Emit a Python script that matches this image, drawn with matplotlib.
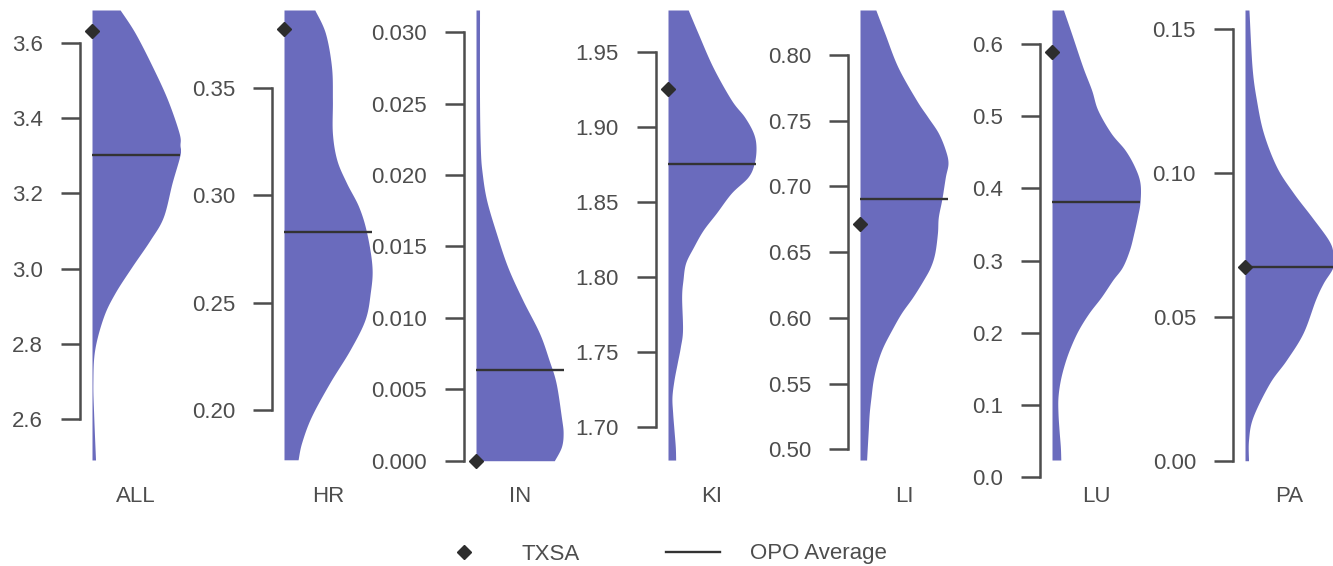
import numpy as np
import matplotlib
matplotlib.use("Agg")
import matplotlib.pyplot as plt
from matplotlib.lines import Line2D

plt.rcParams['font.family'] = ['Liberation Sans', 'DejaVu Sans']

# ---------------- data ----------------
categories = ['ALL', 'HR', 'IN', 'KI', 'LI', 'LU', 'PA']
txsa = [3.630, 0.3772, 0.0, 1.9253, 0.6714, 0.5893, 0.0675]
opo_average = [3.302, 0.2830, 0.00633, 1.8757, 0.6902, 0.3816, 0.0675]

# violin density profiles (value, relative density)
all_y = [3.687, 3.626, 3.535, 3.448, 3.360, 3.328, 3.302, 3.228, 3.137, 3.076, 3.004, 2.935, 2.872, 2.784, 2.696, 2.606, 2.492]
all_w = [0.32, 0.49, 0.69, 0.86, 0.99, 1.00, 1.00, 0.91, 0.81, 0.66, 0.45, 0.26, 0.13, 0.03, 0.01, 0.02, 0.04]

hr_y = [0.3861, 0.3754, 0.3596, 0.3443, 0.3289, 0.3164, 0.3057, 0.2945, 0.2824, 0.2666, 0.2545, 0.2420, 0.2280, 0.2127, 0.1969, 0.1848, 0.1769]
hr_w = [0.35, 0.47, 0.54, 0.55, 0.55, 0.60, 0.71, 0.85, 0.94, 1.00, 0.98, 0.92, 0.75, 0.52, 0.31, 0.20, 0.16]

in_y = [0.03156, 0.02526, 0.02176, 0.02015, 0.01826, 0.01595, 0.01357, 0.01126, 0.00895, 0.00705, 0.00544, 0.00306, 0.00194, 0.00096, 0.0]
in_w = [0.04, 0.04, 0.05, 0.07, 0.12, 0.23, 0.36, 0.53, 0.72, 0.83, 0.91, 0.97, 0.99, 0.97, 0.89]

ki_y = [1.9782, 1.9629, 1.9402, 1.9182, 1.9069, 1.8962, 1.8869, 1.8762, 1.8669, 1.8562, 1.8429, 1.8315,
        1.8202, 1.8095, 1.7982, 1.7869, 1.7649, 1.7535, 1.7429, 1.7315, 1.7202, 1.7095, 1.6982, 1.6869, 1.6782]
ki_w = [0.23, 0.34, 0.51, 0.72, 0.87, 0.97, 1.00, 0.98, 0.91, 0.72, 0.55, 0.40,
        0.29, 0.20, 0.17, 0.155, 0.165, 0.14, 0.105, 0.068, 0.045, 0.053, 0.068, 0.083, 0.087]

li_y = [0.8342, 0.8167, 0.7909, 0.7658, 0.7528, 0.7407, 0.7277, 0.7178, 0.7072, 0.6904, 0.6767, 0.6646, 0.6494,
        0.6387, 0.6288, 0.6159, 0.6037, 0.5908, 0.5778, 0.5657, 0.5527, 0.5398, 0.5276, 0.5147, 0.5018, 0.4919]
li_w = [0.18, 0.28, 0.43, 0.64, 0.77, 0.89, 0.97, 1.00, 0.97, 0.93, 0.89, 0.88, 0.85,
        0.80, 0.72, 0.60, 0.47, 0.36, 0.26, 0.195, 0.15, 0.125, 0.105, 0.094, 0.083, 0.075]

lu_y = [0.6471, 0.6152, 0.5681, 0.5363, 0.5086, 0.4767, 0.4532, 0.4296, 0.4075, 0.3812, 0.3604, 0.3382, 0.3147,
        0.2911, 0.2731, 0.2496, 0.2274, 0.2039, 0.1803, 0.1582, 0.1346, 0.1111, 0.0889, 0.0654, 0.0418, 0.0238]
lu_w = [0.13, 0.22, 0.35, 0.45, 0.52, 0.67, 0.83, 0.94, 1.00, 1.00, 0.97, 0.93, 0.88,
        0.80, 0.69, 0.56, 0.42, 0.30, 0.21, 0.145, 0.095, 0.068, 0.068, 0.08, 0.095, 0.10]

pa_y = [0.1567, 0.1369, 0.1254, 0.1139, 0.1021, 0.0931, 0.0847, 0.0767, 0.0722, 0.0674, 0.0618, 0.0559, 0.0444, 0.0350, 0.0270, 0.0152, 0.0072, 0.0]
pa_w = [0.045, 0.08, 0.13, 0.21, 0.36, 0.55, 0.76, 0.95, 1.00, 1.00, 0.89, 0.80, 0.66, 0.47, 0.28, 0.09, 0.04, 0.04]

profiles = [(all_y, all_w), (hr_y, hr_w), (in_y, in_w), (ki_y, ki_w),
            (li_y, li_w), (lu_y, lu_w), (pa_y, pa_w)]

yticks = [
    [2.6, 2.8, 3.0, 3.2, 3.4, 3.6],
    [0.20, 0.25, 0.30, 0.35],
    [0.000, 0.005, 0.010, 0.015, 0.020, 0.025, 0.030],
    [1.70, 1.75, 1.80, 1.85, 1.90, 1.95],
    [0.50, 0.55, 0.60, 0.65, 0.70, 0.75, 0.80],
    [0.0, 0.1, 0.2, 0.3, 0.4, 0.5, 0.6],
    [0.00, 0.05, 0.10, 0.15],
]
tick_fmt = ['{:.1f}', '{:.2f}', '{:.3f}', '{:.2f}', '{:.2f}', '{:.1f}', '{:.2f}']
ylims = [(2.4388, 3.687), (0.1675, 0.3861), (-0.00135, 0.03156), (1.6649, 1.9782),
         (0.4767, 0.8342), (-0.0039, 0.6471), (-0.0067, 0.1567)]

# ---------------- style ----------------
W, H = 1333, 566
VIOLIN = '#6A6BBD'
DARK = '#2d2d2d'
GREY = '#4d4d4d'
FS = 16


def smooth(y, w, n=12):
    """Catmull-Rom rendering of an outline through the given points."""
    y = np.asarray(y, float)
    w = np.asarray(w, float)
    P = np.column_stack([y, w])
    P = np.vstack([P[0], P, P[-1]])
    out = []
    t = np.linspace(0, 1, n, endpoint=False)[:, None]
    for i in range(1, len(P) - 2):
        p0, p1, p2, p3 = P[i - 1], P[i], P[i + 1], P[i + 2]
        seg = 0.5 * ((2 * p1) + (-p0 + p2) * t + (2 * p0 - 5 * p1 + 4 * p2 - p3) * t ** 2
                     + (-p0 + 3 * p1 - 3 * p2 + p3) * t ** 3)
        out.append(seg)
    out.append(P[-2][None, :])
    out = np.vstack(out)
    return out[:, 0], np.clip(out[:, 1], 0, None)


fig = plt.figure(figsize=(W / 100, H / 100), dpi=100)

lefts = [92, 284, 476, 668, 860, 1052, 1245]
ax_w = 88
ax_top, ax_bot = 10, 480

for i, cat in enumerate(categories):
    ax = fig.add_axes([lefts[i] / W, 1 - ax_bot / H, ax_w / W, (ax_bot - ax_top) / H])
    ax.set_xlim(0, 1)
    ax.set_ylim(*ylims[i])
    ys, ws = smooth(*profiles[i])
    ax.fill_betweenx(ys, 0, ws, color=VIOLIN, lw=0, zorder=1)
    ax.plot([0, 1], [opo_average[i], opo_average[i]], color='#333333', lw=1.7, zorder=3)
    ax.plot([0], [txsa[i]], marker='D', ms=7, color=DARK, ls='none', zorder=4, clip_on=False)

    for s in ['top', 'right', 'bottom']:
        ax.spines[s].set_visible(False)
    ax.spines['left'].set_position(('outward', 8.3))
    ax.spines['left'].set_bounds(yticks[i][0], yticks[i][-1])
    ax.spines['left'].set_linewidth(1.8)
    ax.spines['left'].set_color(GREY)
    ax.set_yticks(yticks[i])
    ax.set_yticklabels([tick_fmt[i].format(v) for v in yticks[i]])
    ax.tick_params(axis='y', length=13.7, width=1.8, pad=13.3, labelsize=FS,
                   color=GREY, labelcolor=GREY)
    ax.set_xticks([])
    ax.patch.set_visible(False)
    ax.text(0.5, (ax_bot - 496) / (ax_bot - ax_top), cat, transform=ax.transAxes,
            ha='center', va='center', fontsize=FS, color=GREY)

handles = [
    Line2D([], [], marker='D', ms=7, color=DARK, ls='none', label='TXSA'),
    Line2D([], [], color='#333333', lw=1.7, label='OPO Average'),
]
leg = fig.legend(handles=handles, ncol=2, loc='center',
                 bbox_to_anchor=(662 / W, 1 - 554 / H), frameon=False,
                 handlelength=2.45, handletextpad=1.35, columnspacing=3.9,
                 fontsize=FS)
for t in leg.get_texts():
    t.set_color(GREY)

fig.savefig('out.png', dpi=100)
